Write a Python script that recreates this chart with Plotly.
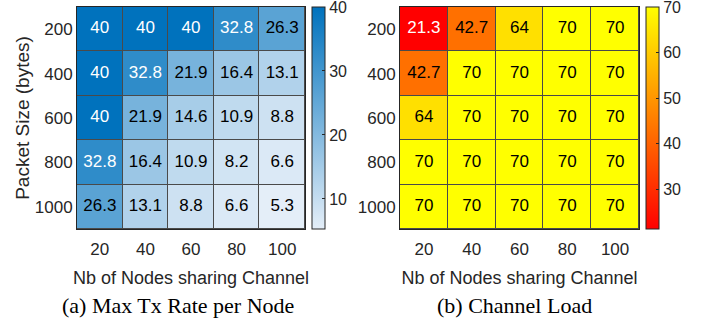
import plotly.graph_objects as go

nodes = ["20", "40", "60", "80", "100"]
packet_sizes = ["200", "400", "600", "800", "1000"]

max_tx_rate = [
    [40, 40, 40, 32.8, 26.3],
    [40, 32.8, 21.9, 16.4, 13.1],
    [40, 21.9, 14.6, 10.9, 8.8],
    [32.8, 16.4, 10.9, 8.2, 6.6],
    [26.3, 13.1, 8.8, 6.6, 5.3],
]
channel_load = [
    [21.3, 42.7, 64, 70, 70],
    [42.7, 70, 70, 70, 70],
    [64, 70, 70, 70, 70],
    [70, 70, 70, 70, 70],
    [70, 70, 70, 70, 70],
]
rate_ticks = [10, 20, 30, 40]
load_ticks = [30, 40, 50, 60, 70]

W, H = 701, 320
SANS = "Liberation Sans, Arial, Helvetica, sans-serif"
SERIF = "Liberation Serif, Times New Roman, serif"
GREY = "#262626"

blues = [[0, "rgb(228,238,248)"], [1, "rgb(0,114,189)"]]
autumn = [[0, "rgb(255,0,0)"], [1, "rgb(255,255,0)"]]


def cbar(x_px, ticks):
    return dict(
        x=x_px / W, xanchor="left", xpad=0,
        y=1 - 118 / H, yanchor="middle", ypad=0,
        len=222, lenmode="pixels", thickness=13,
        outlinewidth=1, outlinecolor=GREY,
        tickvals=ticks, ticks="inside", ticklen=3, tickcolor=GREY,
        ticklabeloverflow="allow",
        tickfont=dict(family=SANS, size=16, color=GREY),
    )


def flat_text(z, white_if):
    xs, ys, txt, cols = [], [], [], []
    for i, row in enumerate(z):
        for j, v in enumerate(row):
            xs.append(nodes[j])
            ys.append(packet_sizes[i])
            txt.append(f"{v:g}")
            cols.append("white" if white_if(v) else "black")
    return xs, ys, txt, cols


fig = go.Figure()
for z, cs, cb, xa, ya, rule in [
    (max_tx_rate, blues, cbar(312, rate_ticks), "x", "y", lambda v: v > 30),
    (channel_load, autumn, cbar(646, load_ticks), "x2", "y2", lambda v: v < 30),
]:
    zmin = min(min(r) for r in z)
    zmax = max(max(r) for r in z)
    fig.add_trace(go.Heatmap(
        z=z, x=nodes, y=packet_sizes, colorscale=cs, zmin=zmin, zmax=zmax,
        xgap=1, ygap=1, colorbar=cb, xaxis=xa, yaxis=ya, hoverinfo="z",
    ))
    xs, ys, txt, cols = flat_text(z, rule)
    fig.add_trace(go.Scatter(
        x=xs, y=ys, text=txt, mode="text", xaxis=xa, yaxis=ya,
        textfont=dict(family=SANS, size=17, color=cols),
        showlegend=False, hoverinfo="skip",
    ))

ydom = [1 - 229 / H, 1 - 7 / H]
axcommon = dict(showline=True, mirror=True, linecolor=GREY, linewidth=1,
                ticks="", showgrid=False, zeroline=False, automargin=False,
                tickfont=dict(family=SANS, size=17, color=GREY))
xt = dict(text="Nb of Nodes sharing Channel", font=dict(family=SANS, size=18, color=GREY), standoff=12)

fig.update_layout(
    width=W, height=H, margin=dict(l=0, r=0, t=0, b=0, autoexpand=False),
    paper_bgcolor="white", plot_bgcolor="#4a4a4a", showlegend=False,
    xaxis=dict(domain=[77 / W, 305 / W], anchor="y", title=xt, ticklabelstandoff=5, **axcommon),
    yaxis=dict(domain=ydom, anchor="x", autorange="reversed",
               title=dict(text="Packet Size (bytes)", font=dict(family=SANS, size=19, color=GREY), standoff=0),
               **axcommon),
    xaxis2=dict(domain=[400 / W, 639 / W], anchor="y2", title=xt, ticklabelstandoff=5, **axcommon),
    yaxis2=dict(domain=ydom, anchor="x2", autorange="reversed", **axcommon),
    annotations=[
        dict(text="(a) Max Tx Rate per Node", x=178 / W, y=1 - 305 / H, xref="paper", yref="paper",
             showarrow=False, font=dict(family=SERIF, size=22, color="black"), xanchor="center", yanchor="middle"),
        dict(text="(b) Channel Load", x=514 / W, y=1 - 305 / H, xref="paper", yref="paper",
             showarrow=False, font=dict(family=SERIF, size=22, color="black"), xanchor="center", yanchor="middle"),
    ],
)

fig.write_html("out.html", config={"displayModeBar": False},
               post_script="document.body.style.margin='0';document.body.style.overflow='hidden';")
